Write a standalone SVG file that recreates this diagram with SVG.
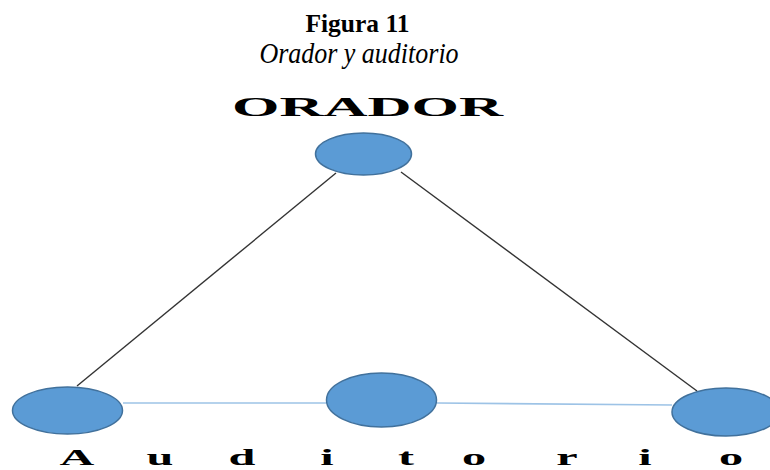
<svg xmlns="http://www.w3.org/2000/svg" width="770" height="470" viewBox="0 0 770 470">
<style>
.node{fill:#5B9BD5;stroke:#41719C;stroke-width:1.5}
.dark{stroke:#333;stroke-width:1.4;fill:none}
.blue{stroke:#9DC3E6;stroke-width:1.6;fill:none}
.t{font-family:"Liberation Serif","Times New Roman",serif;fill:#000}
</style>
<rect width="770" height="470" fill="#fff"/>
<text class="t" x="357.5" y="32" font-size="25.5" font-weight="bold" text-anchor="middle">Figura 11</text>
<text class="t" transform="translate(359,63) scale(1,1.15)" x="0" y="0" font-size="26" font-style="italic" text-anchor="middle">Orador y auditorio</text>
<text class="t" transform="translate(367.5,116) scale(2.26,1)" x="0" y="0" font-size="27" font-weight="bold" text-anchor="middle">ORADOR</text>
<g id="connectors">
<line class="dark" x1="336" y1="173" x2="77" y2="386"/>
<line class="dark" x1="401" y1="172" x2="697" y2="391"/>
<line class="blue" x1="123" y1="403" x2="326" y2="403"/>
<line class="blue" x1="437" y1="403" x2="672" y2="405"/>
</g>
<g id="orador"><ellipse class="node" cx="363.5" cy="154" rx="48" ry="21"/></g>
<g id="aud-left"><ellipse class="node" cx="67.5" cy="410.5" rx="55" ry="23.5"/></g>
<g id="aud-middle"><ellipse class="node" cx="381.5" cy="400" rx="55" ry="27"/></g>
<g id="aud-right"><ellipse class="node" cx="726" cy="412" rx="54" ry="24"/></g>
<text class="t" transform="translate(0,465) scale(2.1,1)" y="0" x="36.67 76.19 115.24 155.71 193.33 225.71 270 307.14 348.1" font-size="23" font-weight="bold" text-anchor="middle">Auditorio</text>
</svg>
